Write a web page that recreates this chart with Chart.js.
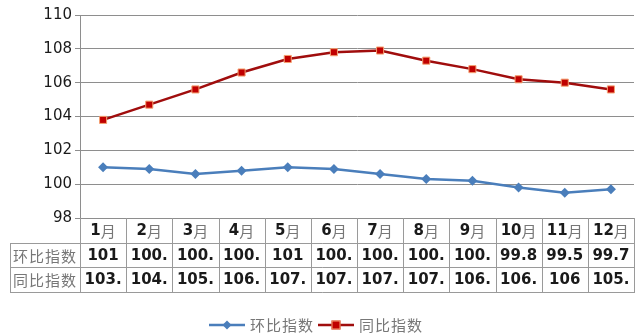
<!DOCTYPE html>
<html>
<head>
<meta charset="utf-8">
<script src="https://cdn.jsdelivr.net/npm/chart.js@4/dist/chart.umd.min.js"></script>
<style>
  html, body { margin: 0; padding: 0; background: #fff; }
  #wrap { width: 635px; height: 336px; }
</style>
</head>
<body>
<div id="wrap"><canvas id="c" width="635" height="336"></canvas></div>
<script>
// Monthly price indices
const months = ['1月', '2月', '3月', '4月', '5月', '6月', '7月', '8月', '9月', '10月', '11月', '12月'];
const momIndex = [101.0, 100.9, 100.6, 100.8, 101.0, 100.9, 100.6, 100.3, 100.2, 99.8, 99.5, 99.7]; // 环比指数
const yoyIndex = [103.8, 104.7, 105.6, 106.6, 107.4, 107.8, 107.9, 107.3, 106.8, 106.2, 106.0, 105.6]; // 同比指数
const seriesNames = ['环比指数', '同比指数'];
const yMin = 98, yMax = 110, yStep = 2;

const NUM_FONT = '"DejaVu Sans", sans-serif';
const CJK_FONT = '"Noto Sans CJK SC", sans-serif';
const GRID = '#8e8e8e';
const TABLE_LINE = '#9a9a9a';
const BLUE = '#4a7ebb';
const RED_LINE = '#a00d0d';
const RED_FILL = '#c00000';
const RED_EDGE = '#f5a070';
const LABEL_GREY = '#777';

const ROW_H = 24.6;
const LABEL_LEFT = 10;

function fitText(ctx, s, maxW) {
  while (s.length > 1 && ctx.measureText(s).width > maxW) s = s.slice(0, -1);
  return s;
}

function drawSpaced(ctx, text, x, y, step) {
  for (let i = 0; i < text.length; i++) ctx.fillText(text[i], x + i * step, y);
  return text.length * step;
}

function drawDiamond(ctx, x, y, r, color) {
  ctx.fillStyle = color;
  ctx.beginPath();
  ctx.moveTo(x, y - r); ctx.lineTo(x + r, y); ctx.lineTo(x, y + r); ctx.lineTo(x - r, y);
  ctx.closePath(); ctx.fill();
}

function drawSquare(ctx, x, y, r) {
  ctx.fillStyle = RED_FILL;
  ctx.strokeStyle = RED_EDGE;
  ctx.lineWidth = 1;
  ctx.fillRect(x - r, y - r, 2 * r, 2 * r);
  ctx.strokeRect(x - r + 0.5, y - r + 0.5, 2 * r - 1, 2 * r - 1);
}

const tablePlugin = {
  id: 'dataTable',
  afterDraw(chart) {
    const ctx = chart.ctx;
    const area = chart.chartArea;
    const xs = chart.scales.x;
    const n = months.length;
    const colW = (area.right - area.left) / n;
    const top = area.bottom;
    const rows = [top, top + ROW_H, top + 2 * ROW_H, top + 3 * ROW_H].map(Math.round);
    const right = Math.min(area.right, chart.width - 1);

    ctx.save();
    ctx.strokeStyle = TABLE_LINE;
    ctx.lineWidth = 1;
    ctx.beginPath();
    // horizontal rules
    for (let r = 1; r < rows.length; r++) {
      ctx.moveTo(LABEL_LEFT, rows[r] + 0.5);
      ctx.lineTo(right + 0.5, rows[r] + 0.5);
    }
    // left border of label column
    ctx.moveTo(LABEL_LEFT + 0.5, rows[1]);
    ctx.lineTo(LABEL_LEFT + 0.5, rows[3] + 1);
    // column boundaries
    for (let k = 0; k <= n; k++) {
      const x = Math.round(area.left + k * colW);
      const xx = Math.min(x, chart.width - 1) + 0.5;
      ctx.moveTo(xx, rows[0]);
      ctx.lineTo(xx, rows[3] + 1);
    }
    ctx.stroke();

    ctx.textBaseline = 'middle';
    // header: month names
    for (let i = 0; i < n; i++) {
      const cx = xs.getPixelForValue(i);
      const cy = (rows[0] + rows[1]) / 2 + 1;
      const num = months[i].replace('月', '');
      ctx.font = 'bold 15px ' + NUM_FONT;
      const wNum = ctx.measureText(num).width;
      ctx.font = '15px ' + CJK_FONT;
      const wYue = ctx.measureText('月').width;
      const x0 = cx - (wNum + wYue) / 2;
      ctx.textAlign = 'left';
      ctx.font = 'bold 15px ' + NUM_FONT;
      ctx.fillStyle = '#1a1a1a';
      ctx.fillText(num, x0, cy);
      ctx.font = '15px ' + CJK_FONT;
      ctx.fillStyle = LABEL_GREY;
      ctx.fillText('月', x0 + wNum, cy);
    }

    // data rows
    const series = [momIndex, yoyIndex];
    for (let r = 0; r < 2; r++) {
      const cy = (rows[r + 1] + rows[r + 2]) / 2 + 1;
      ctx.font = '15px ' + CJK_FONT;
      ctx.fillStyle = LABEL_GREY;
      ctx.textAlign = 'left';
      drawSpaced(ctx, seriesNames[r], LABEL_LEFT + 3, cy, 16);
      ctx.font = 'bold 15px ' + NUM_FONT;
      ctx.fillStyle = '#1a1a1a';
      ctx.textAlign = 'center';
      for (let i = 0; i < n; i++) {
        const txt = fitText(ctx, String(series[r][i]), colW - 5);
        ctx.fillText(txt, xs.getPixelForValue(i), cy);
      }
    }

    // legend
    const ly = 325;
    ctx.font = '15px ' + CJK_FONT;
    const step = 16;
    const textW = seriesNames[0].length * step;
    const lineW = 36, gap = 5, between = 4;
    const total = 2 * (lineW + gap + textW) + between;
    let lx = Math.round(chart.width / 2 - total / 2) - 2;
    ctx.textAlign = 'left';
    // series 1
    ctx.strokeStyle = BLUE; ctx.lineWidth = 2.5;
    ctx.beginPath(); ctx.moveTo(lx, ly); ctx.lineTo(lx + lineW, ly); ctx.stroke();
    drawDiamond(ctx, lx + lineW / 2, ly, 4.5, BLUE);
    lx += lineW + gap;
    ctx.fillStyle = LABEL_GREY;
    drawSpaced(ctx, seriesNames[0], lx, ly, step);
    lx += textW + between;
    // series 2
    ctx.strokeStyle = RED_LINE; ctx.lineWidth = 2.5;
    ctx.beginPath(); ctx.moveTo(lx, ly); ctx.lineTo(lx + lineW, ly); ctx.stroke();
    drawSquare(ctx, lx + lineW / 2, ly, 4.5);
    lx += lineW + gap;
    ctx.fillStyle = LABEL_GREY;
    drawSpaced(ctx, seriesNames[1], lx, ly, step);
    ctx.restore();
  }
};

new Chart(document.getElementById('c'), {
  type: 'line',
  data: {
    labels: months,
    datasets: [
      {
        label: seriesNames[0],
        data: momIndex,
        borderColor: BLUE,
        backgroundColor: BLUE,
        borderWidth: 2.5,
        pointStyle: 'rectRot',
        pointRadius: 5,
        pointBorderWidth: 0,
        pointBackgroundColor: BLUE,
        tension: 0
      },
      {
        label: seriesNames[1],
        data: yoyIndex,
        borderColor: RED_LINE,
        backgroundColor: RED_FILL,
        borderWidth: 2.5,
        pointStyle: 'rect',
        pointRadius: 5,
        pointBorderWidth: 1,
        pointBorderColor: RED_EDGE,
        pointBackgroundColor: RED_FILL,
        tension: 0
      }
    ]
  },
  options: {
    responsive: false,
    animation: false,
    devicePixelRatio: 1,
    layout: { autoPadding: false, padding: { top: 15, bottom: 118, left: 0, right: 1 } },
    plugins: {
      legend: { display: false },
      tooltip: { enabled: false }
    },
    scales: {
      x: {
        display: false,
        offset: true
      },
      y: {
        min: yMin,
        max: yMax,
        afterFit(scale) { scale.width = 80; },
        ticks: {
          stepSize: yStep,
          color: '#1a1a1a',
          font: { family: 'DejaVu Sans', size: 15 },
          padding: 3
        },
        grid: { color: GRID, lineWidth: 1, tickLength: 5, drawTicks: true },
        border: { color: GRID, width: 1 }
      }
    }
  },
  plugins: [tablePlugin]
});
</script>
</body>
</html>
